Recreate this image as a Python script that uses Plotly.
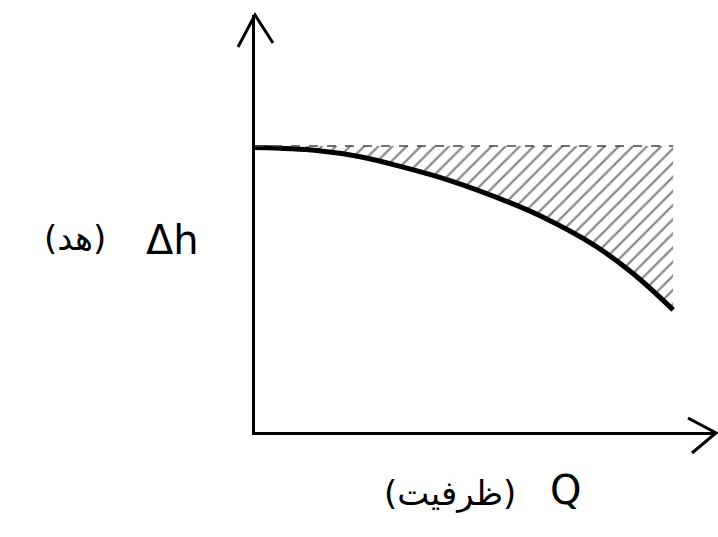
import plotly.graph_objects as go

# Data (arbitrary units)
q_vals = [0.0, 1.34, 2.28, 3.15, 4.23, 5.53, 6.25, 7.33, 8.20, 9.07]
head_vals = [6.82, 6.75, 6.60, 6.37, 6.03, 5.50, 5.15, 4.50, 3.80, 2.93]
shutoff_head = 6.86
x_label = "Q"
x_label_fa = "(ظرفیت)"
y_label = "Δh"
y_label_fa = "(هد)"

fig = go.Figure()
fig.add_trace(go.Scatter(
    x=q_vals, y=head_vals, mode="lines",
    line=dict(color="black", width=5, shape="spline", smoothing=1.0),
    hoverinfo="skip", showlegend=False))
fig.add_trace(go.Scatter(
    x=q_vals, y=[shutoff_head] * len(q_vals), mode="lines",
    line=dict(color="#444444", width=1.5, dash="dash"),
    fill="tonexty", fillcolor="rgba(255,255,255,0)",
    fillpattern=dict(shape="/", fgcolor="#111111", bgcolor="rgba(255,255,255,0)",
                     size=10, solidity=0.22),
    hoverinfo="skip", showlegend=False))

W, H = 718, 537
L, R, T, B = 255, 2, 15, 105
fig.update_layout(
    width=W, height=H,
    margin=dict(l=L, r=R, t=T, b=B),
    paper_bgcolor="white", plot_bgcolor="white",
    xaxis=dict(range=[0, 10], showgrid=False, zeroline=False, showticklabels=False,
               ticks="", showline=True, linecolor="black", linewidth=3),
    yaxis=dict(range=[0, 10], showgrid=False, zeroline=False, showticklabels=False,
               ticks="", showline=True, linecolor="black", linewidth=3),
)

def px2paper(px, py):
    return (px - L) / (W - L - R), (H - B - py) / (H - T - B)

def vpath(points):
    pts = [px2paper(*p) for p in points]
    return "M " + " L ".join(f"{x},{y}" for x, y in pts)

# arrow heads (open V, hand-drawn style)
fig.add_shape(type="path", xref="paper", yref="paper",
              path=vpath([(238, 47), (255, 15), (273, 43)]),
              line=dict(color="black", width=3))
fig.add_shape(type="path", xref="paper", yref="paper",
              path=vpath([(688, 418), (716, 433), (692, 453)]),
              line=dict(color="black", width=3))

fig.add_annotation(xref="paper", yref="paper", x=px2paper(201, 0)[0], y=px2paper(0, 240)[1],
                   text=y_label, showarrow=False, xanchor="right", yanchor="middle",
                   font=dict(family="DejaVu Sans", size=40, color="black"))
fig.add_annotation(xref="paper", yref="paper", x=px2paper(108, 0)[0], y=px2paper(0, 238)[1],
                   text=y_label_fa, showarrow=False, xanchor="right", yanchor="middle",
                   font=dict(family="DejaVu Sans", size=34, color="black"))
fig.add_annotation(xref="paper", yref="paper", x=px2paper(565, 0)[0], y=px2paper(0, 490)[1],
                   text=x_label, showarrow=False, xanchor="center", yanchor="middle",
                   font=dict(family="DejaVu Sans", size=40, color="black"))
fig.add_annotation(xref="paper", yref="paper", x=px2paper(450, 0)[0], y=px2paper(0, 493)[1],
                   text=x_label_fa, showarrow=False, xanchor="center", yanchor="middle",
                   font=dict(family="DejaVu Sans", size=34, color="black"))

fig.write_html("out.html", config={"displayModeBar": False},
               post_script="document.body.style.margin='0';")
